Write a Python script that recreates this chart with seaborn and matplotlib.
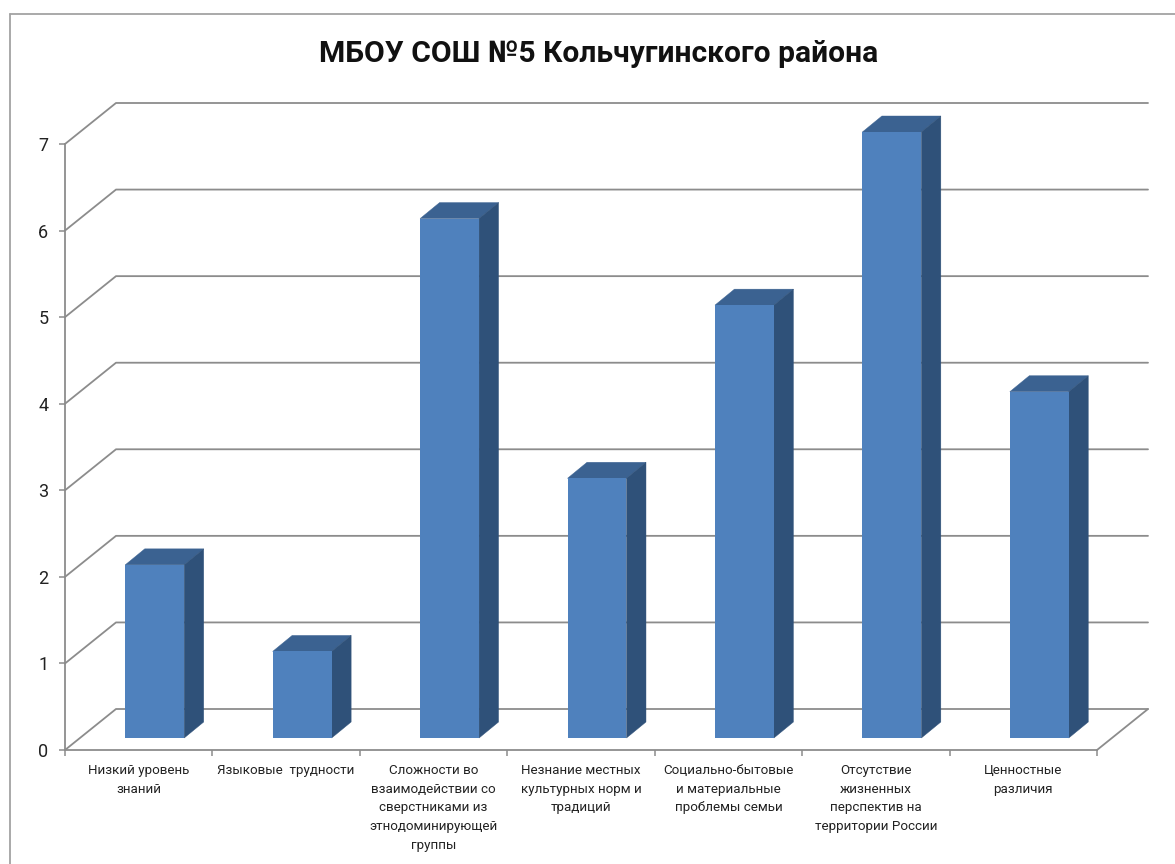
import matplotlib
matplotlib.use('Agg')
import matplotlib.pyplot as plt
from matplotlib.lines import Line2D
from matplotlib.patches import Polygon
import seaborn as sns

sns.set_theme(style='white')
plt.rcParams['font.family'] = ['Roboto', 'Open Sans', 'DejaVu Sans']

title = 'МБОУ СОШ №5 Кольчугинского района'
categories = [
    'Низкий уровень\nзнаний',
    'Языковые  трудности',
    'Сложности во\nвзаимодействии со\nсверстниками из\nэтнодоминирующей\nгруппы',
    'Незнание местных\nкультурных норм и\nтрадиций',
    'Социально-бытовые\nи материальные\nпроблемы семьи',
    'Отсутствие\nжизненных\nперспектив на\nтерритории России',
    'Ценностные\nразличия',
]
values = [2, 1, 6, 3, 5, 7, 4]
y_ticks = [0, 1, 2, 3, 4, 5, 6, 7]

W, H = 1175, 864
GRID = '#8c8c8c'
FRONT = '#4f81bd'
SIDE = '#2f5179'
TOP = '#3b6291'


def px_axes(fig, left, right, top, bottom):
    return fig.add_axes([left / W, 1 - bottom / H, (right - left) / W, (bottom - top) / H])


fig = plt.figure(figsize=(W / 100, H / 100), dpi=100, facecolor='white')

# outer chart frame, runs off the right and bottom of the picture
fig.add_artist(Line2D([10 / W, 1], [1 - 14 / H, 1 - 14 / H], color='#a3a3a3', lw=1.3))
fig.add_artist(Line2D([10 / W, 10 / W], [1 - 14 / H, 0], color='#a3a3a3', lw=1.3))

# front plane of the fake 3D box: axis, ticks, labels
ax = px_axes(fig, 65, 1097, 144, 750)
ax.set_xlim(-0.5, len(categories) - 0.5)
ax.set_ylim(0, 7)
ax.patch.set_alpha(0)
for side in ['top', 'right']:
    ax.spines[side].set_visible(False)
for side in ['left', 'bottom']:
    ax.spines[side].set_color(GRID)
    ax.spines[side].set_linewidth(1.3)
ax.set_yticks(y_ticks)
ax.tick_params(axis='y', length=4, width=1.1, color=GRID, labelsize=13, labelcolor='#222222', pad=8, left=True)
ax.set_xticks([i - 0.5 for i in range(len(categories) + 1)])
ax.set_xticklabels([])
ax.set_xticks(range(len(categories)), labels=categories, minor=True)
ax.tick_params(axis='x', which='major', length=4, width=1.1, color=GRID, bottom=True)
ax.tick_params(axis='x', which='minor', length=0, labelsize=9.6, labelcolor='#222222', pad=10)
for lab in ax.get_xticklabels(minor=True):
    lab.set_linespacing(1.57)

# back wall lines, shifted up and right from the front plane
wall_dx = 51 / ((1097 - 65) / len(categories))
wall_dy = 41 / ((750 - 144) / 7)
x0, x1 = -0.5, len(categories) - 0.5
for k in y_ticks:
    ax.plot([x0, x0 + wall_dx, x1 + wall_dx], [k, k + wall_dy, k + wall_dy],
            color=GRID, lw=1.3, clip_on=False, zorder=1)
ax.plot([x1, x1 + wall_dx], [0, wall_dy], color=GRID, lw=1.3, clip_on=False, zorder=1)

# bars sit on their own plane, a little behind the front axis
bar_ax = px_axes(fig, 81, 1113, 132, 738)
bar_ax.patch.set_alpha(0)
sns.barplot(x=list(range(len(values))), y=values, ax=bar_ax, color=FRONT, saturation=1, width=0.4, linewidth=0)
bar_ax.set_xlim(x0, x1)
bar_ax.set_ylim(0, 7)
bar_ax.axis('off')

depth_x = 19.5 / ((1113 - 81) / len(categories))
depth_y = 16 / ((738 - 132) / 7)
for bar in list(bar_ax.patches):
    l, r = bar.get_x(), bar.get_x() + bar.get_width()
    h = bar.get_height()
    bar_ax.add_patch(Polygon([(l, h), (r, h), (r + depth_x, h + depth_y), (l + depth_x, h + depth_y)],
                             closed=True, facecolor=TOP, edgecolor=TOP, lw=0.3, clip_on=False, zorder=0.5))
    bar_ax.add_patch(Polygon([(r, 0), (r + depth_x, depth_y), (r + depth_x, h + depth_y), (r, h)],
                             closed=True, facecolor=SIDE, edgecolor=SIDE, lw=0.3, clip_on=False, zorder=0.5))
    bar.set_zorder(1)

fig.text(599 / W, 1 - 54 / H, title, ha='center', va='center', fontsize=21.6, fontweight='bold', color='#111111')

plt.savefig('out.png', dpi=100)
plt.close()
